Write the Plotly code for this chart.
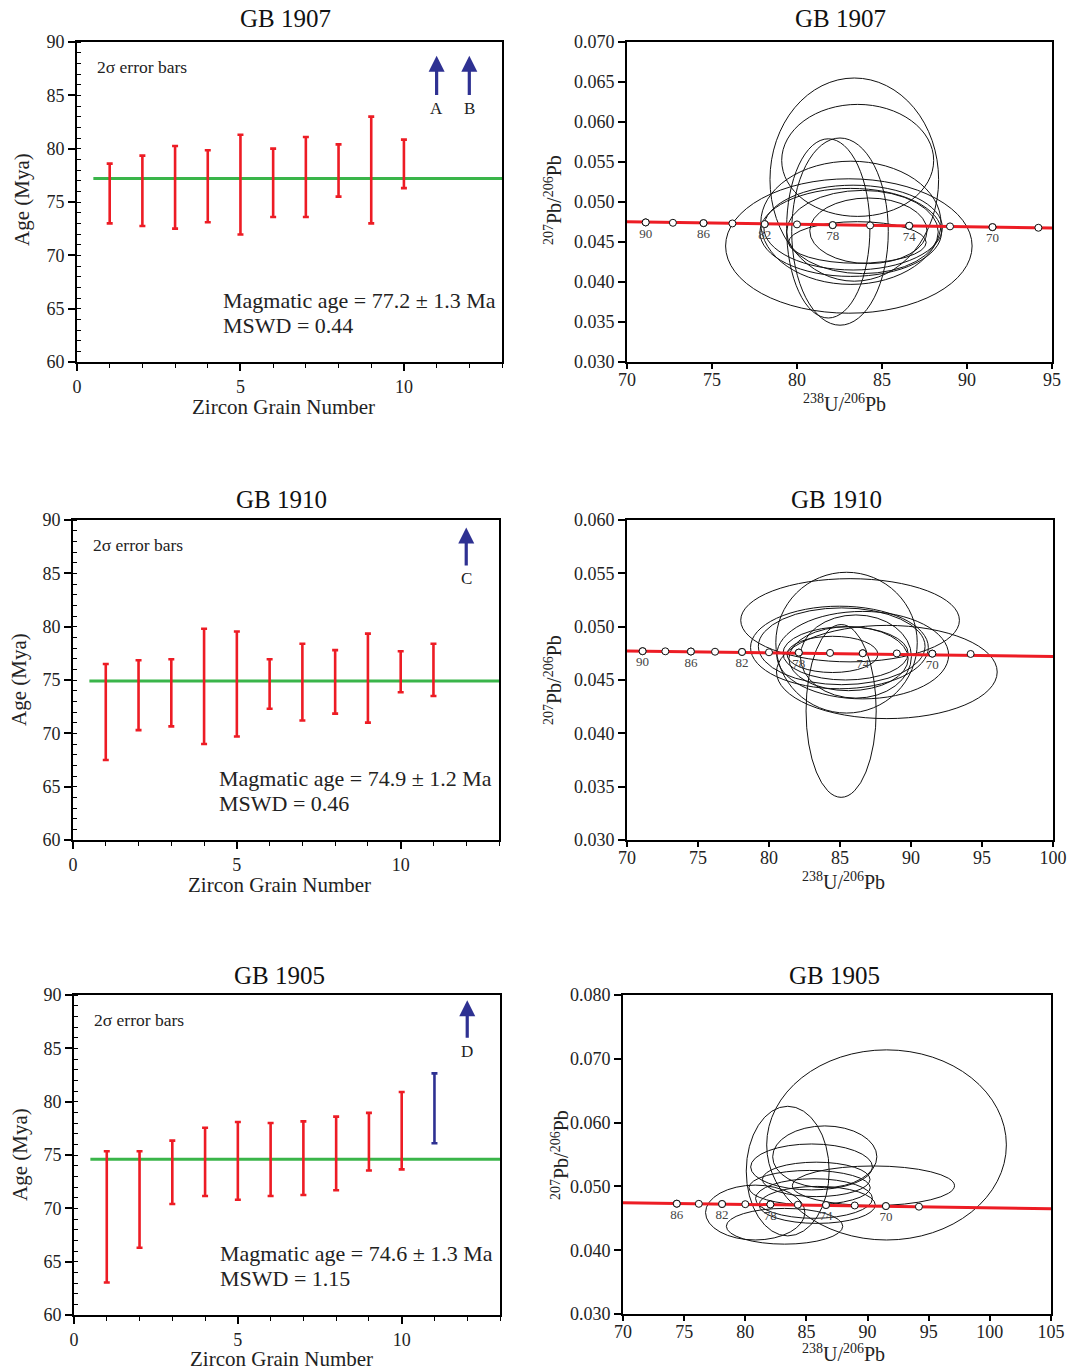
import plotly.graph_objects as go

OFF = 0                      # body margin is removed by the post script below
W, H = 1070, 1371
FONT = "Liberation Serif"
RED = "#ed1c24"
BLUE = "#2e3192"
GREEN = "#3ab54a"

# ---------------- weighted-mean age data (2-sigma ranges, Ma) ----------------
grains_1907 = [1, 2, 3, 4, 5, 6, 7, 8, 9, 10]
low_1907 = [73.0, 72.75, 72.5, 73.1, 71.95, 73.6, 73.6, 75.5, 73.0, 76.3]
high_1907 = [78.6, 79.35, 80.25, 79.85, 81.3, 80.0, 81.1, 80.4, 83.0, 80.85]
mean_1907 = 77.2
arrow_x_1907 = [11, 12]
arrow_lbl_1907 = ["A", "B"]
arrow_y_1907 = [84.9, 88.7, 83.8]      # tail, head, label
text_1907 = ["Magmatic age = 77.2 ± 1.3 Ma", "MSWD = 0.44"]

grains_1910 = [1, 2, 3, 4, 5, 6, 7, 8, 9, 10, 11]
low_1910 = [67.5, 70.3, 70.65, 69.0, 69.7, 72.3, 71.2, 71.85, 71.0, 73.85, 73.5]
high_1910 = [76.5, 76.85, 76.95, 79.8, 79.55, 76.95, 78.4, 77.8, 79.35, 77.7, 78.4]
mean_1910 = 74.9
arrow_x_1910 = [12]
arrow_lbl_1910 = ["C"]
arrow_y_1910 = [85.6, 89.3, 84.5]
text_1910 = ["Magmatic age = 74.9 ± 1.2 Ma", "MSWD = 0.46"]

grains_1905 = [1, 2, 3, 4, 5, 6, 7, 8, 9, 10]
low_1905 = [63.05, 66.3, 70.4, 71.15, 70.8, 71.15, 71.25, 71.7, 73.55, 73.65]
high_1905 = [75.35, 75.35, 76.35, 77.55, 78.1, 78.0, 78.15, 78.6, 78.95, 80.9]
excl_grain_1905 = [11]
excl_low_1905 = [76.1]
excl_high_1905 = [82.65]
mean_1905 = 74.6
arrow_x_1905 = [12]
arrow_lbl_1905 = ["D"]
arrow_y_1905 = [85.85, 89.5, 84.7]
text_1905 = ["Magmatic age = 74.6 ± 1.3 Ma", "MSWD = 1.15"]

# ---------------- Tera-Wasserburg concordia data ----------------
conc_age = [90, 88, 86, 84, 82, 80, 78, 76, 74, 72, 70, 68]
conc_x = [71.1, 72.7, 74.5, 76.2, 78.1, 80.0, 82.1, 84.3, 86.6, 89.0, 91.5, 94.2]
conc_y_1907 = [0.04745, 0.04740, 0.04736, 0.04732, 0.04724, 0.04720,
               0.04711, 0.04707, 0.04703, 0.04695, 0.04686, 0.04678]
conc_y_1910 = [0.04770, 0.04769, 0.04767, 0.04765, 0.04763, 0.04760,
               0.04757, 0.04754, 0.04751, 0.04749, 0.04747, 0.04744]
conc_age_1905 = [86, 84, 82, 80, 78, 76, 74, 72, 70, 68]
conc_x_1905 = [74.4, 76.2, 78.1, 80.0, 82.05, 84.3, 86.6, 88.95, 91.5, 94.2]
conc_y_1905 = [0.04729, 0.04727, 0.04724, 0.04721, 0.04717, 0.04713,
               0.04708, 0.04701, 0.04692, 0.04682]
labelled_ages = [90, 86, 82, 78, 74, 70]

line_x_1907 = [70, 95]
line_y_1907 = [0.04752, 0.04676]
line_x_1910 = [70, 100]
line_y_1910 = [0.04773, 0.04720]
line_x_1905 = [70, 105]
line_y_1905 = [0.04745, 0.04651]

# error ellipses: centre x, centre y, half-width, half-height
ell_cx_1907 = [83.37, 83.57, 81.84, 82.53, 83.05, 83.17, 83.16, 83.30, 83.85, 84.20, 83.55]
ell_cy_1907 = [0.0528, 0.0552, 0.0467, 0.0463, 0.0445, 0.0474, 0.0462, 0.0468, 0.04625, 0.0464, 0.04494]
ell_rx_1907 = [4.96, 4.47, 2.45, 2.84, 7.25, 5.30, 5.34, 5.25, 4.46, 3.45, 4.05]
ell_ry_1907 = [0.0127, 0.0070, 0.0112, 0.0117, 0.0084, 0.0077, 0.0055, 0.0053, 0.0052, 0.0041, 0.0026]

ell_cx_1910 = [85.71, 85.46, 85.08, 88.30, 84.96, 85.12, 86.60, 85.39, 86.12, 84.47, 85.60]
ell_cy_1910 = [0.0506, 0.0485, 0.0421, 0.04575, 0.04805, 0.04816, 0.04733, 0.0475, 0.0472, 0.0474, 0.0470]
ell_rx_1910 = [7.70, 4.98, 2.47, 7.77, 6.26, 5.87, 6.05, 4.41, 3.91, 3.20, 4.20]
ell_ry_1910 = [0.0039, 0.0066, 0.0081, 0.00437, 0.00387, 0.0036, 0.0041, 0.0025, 0.0039, 0.0017, 0.0030]

ell_cx_1905 = [91.55, 83.47, 86.50, 85.42, 90.48, 85.26, 85.80, 85.88, 85.62, 80.81, 83.21]
ell_cy_1905 = [0.0565, 0.0524, 0.05464, 0.05305, 0.0501, 0.0498, 0.0511, 0.0471, 0.0481, 0.0459, 0.04375]
ell_rx_1905 = [9.80, 3.39, 4.26, 4.98, 6.63, 4.96, 4.40, 4.75, 4.78, 4.06, 4.76]
ell_ry_1905 = [0.0149, 0.01016, 0.00484, 0.0036, 0.0031, 0.0027, 0.0027, 0.0029, 0.0031, 0.0043, 0.0028]

# ---------------- layout geometry (page pixels) ----------------
# (left, right, top, bottom) of each plotting area
boxes = {
    1: (77, 502, 42, 362), 2: (627, 1052, 42, 362),
    3: (73, 499, 520, 840), 4: (627, 1053, 520, 840),
    5: (74, 500, 995, 1315), 6: (623, 1051, 995, 1314),
}


def px(x):
    return (x - OFF) / W


def py(y):
    return 1 - (y - OFF) / H


fig = go.Figure()
layout = dict(
    width=W, height=H, margin=dict(l=0, r=0, t=0, b=0, autoexpand=False),
    paper_bgcolor="white", plot_bgcolor="white", showlegend=False,
    font=dict(family=FONT, color="#222"),
)
annotations = []
shapes = []


def axname(i, kind):
    return f"{kind}axis" if i == 1 else f"{kind}axis{i}"


def ref(i, kind):
    return kind if i == 1 else f"{kind}{i}"


def set_axes(i, xr, yr, xd, yd, left_panel, yfmt=None):
    l, r, t, b = boxes[i]
    common = dict(showline=True, mirror=True, linecolor="black", linewidth=1.8,
                  showgrid=False, zeroline=False, ticks="outside", automargin=False,
                  tickcolor="black", tickwidth=1.5, ticklen=7,
                  tickfont=dict(family=FONT, size=18, color="#222"))
    xa = dict(common, domain=[px(l), px(r)], range=xr, tick0=xr[0], dtick=xd,
              anchor=ref(i, "y"))
    ya = dict(common, domain=[py(b), py(t)], range=yr, tick0=yr[0], dtick=yd,
              anchor=ref(i, "x"))
    if left_panel:
        xa["minor"] = dict(dtick=1, ticks="outside", ticklen=4, tickcolor="black", tickwidth=1)
        ya["minor"] = dict(dtick=1, ticks="inside", ticklen=4, tickcolor="black", tickwidth=1)
    else:
        xa["ticklen"] = 5
        xa["ticklabelstandoff"] = -5
    if yfmt:
        ya["tickformat"] = yfmt
    layout[axname(i, "x")] = xa
    layout[axname(i, "y")] = ya


def paper_text(text, xc, yc, size, angle=0, color="#222"):
    annotations.append(dict(text=text, x=px(xc), y=py(yc), xref="paper", yref="paper",
                            xanchor="center", yanchor="middle",
                            showarrow=False, textangle=angle,
                            font=dict(family=FONT, size=size, color=color)))


def age_panel(i, grains, low, high, mean, arrows, arrow_lbls, arrow_y, texts,
              xg_ex=None, lo_ex=None, hi_ex=None):
    xr, yr = ref(i, "x"), ref(i, "y")
    set_axes(i, [0, 13], [60, 90], 5, 5, True)
    mid = [(a + b) / 2 for a, b in zip(low, high)]
    fig.add_trace(go.Scatter(
        x=[0.5, 13], y=[mean, mean], mode="lines",
        line=dict(color=GREEN, width=3), xaxis=xr, yaxis=yr, hoverinfo="skip"))
    fig.add_trace(go.Scatter(
        x=grains, y=mid, mode="markers",
        marker=dict(size=1, color="rgba(0,0,0,0)"),
        error_y=dict(type="data", symmetric=False,
                     array=[h - m for h, m in zip(high, mid)],
                     arrayminus=[m - lo for m, lo in zip(mid, low)],
                     color=RED, thickness=2.6, width=3),
        xaxis=xr, yaxis=yr))
    if xg_ex:
        mid_ex = [(a + b) / 2 for a, b in zip(lo_ex, hi_ex)]
        fig.add_trace(go.Scatter(
            x=xg_ex, y=mid_ex, mode="markers",
            marker=dict(size=1, color="rgba(0,0,0,0)"),
            error_y=dict(type="data", symmetric=False,
                         array=[h - m for h, m in zip(hi_ex, mid_ex)],
                         arrayminus=[m - lo for m, lo in zip(mid_ex, lo_ex)],
                         color=BLUE, thickness=2.6, width=3),
            xaxis=xr, yaxis=yr))
    tail, head, lab = arrow_y
    for ax_, lbl in zip(arrows, arrow_lbls):
        annotations.append(dict(x=ax_, y=head, ax=ax_, ay=tail, xref=xr, yref=yr,
                                axref=xr, ayref=yr, showarrow=True, arrowhead=2,
                                arrowsize=1.0, arrowwidth=3.2, arrowcolor=BLUE, text=""))
        annotations.append(dict(x=ax_, y=lab, xref=xr, yref=yr, text=lbl, showarrow=False,
                                xanchor="center", yanchor="middle",
                                font=dict(family=FONT, size=17, color="#222")))
    annotations.append(dict(x=0.55, y=87.7, xref=xr, yref=yr, text="2σ error bars",
                            showarrow=False, xanchor="left", yanchor="middle",
                            font=dict(family=FONT, size=17.5, color="#222")))
    annotations.append(dict(x=4.4, y=65.8, xref=xr, yref=yr, text=texts[0],
                            showarrow=False, xanchor="left", yanchor="middle",
                            font=dict(family=FONT, size=22, color="#222")))
    annotations.append(dict(x=4.4, y=63.4, xref=xr, yref=yr, text=texts[1],
                            showarrow=False, xanchor="left", yanchor="middle",
                            font=dict(family=FONT, size=22, color="#222")))


def conc_panel(i, xr_, yr_, xd, yd, cx, cy, ages, lx, ly, ecx, ecy, erx, ery):
    xr, yr = ref(i, "x"), ref(i, "y")
    set_axes(i, xr_, yr_, xd, yd, False, yfmt=".3f")
    for a, b, c, d in zip(ecx, ecy, erx, ery):
        shapes.append(dict(type="circle", xref=xr, yref=yr, x0=a - c, x1=a + c,
                           y0=b - d, y1=b + d, line=dict(color="#111", width=1),
                           layer="below"))
    fig.add_trace(go.Scatter(x=lx, y=ly, mode="lines", line=dict(color=RED, width=3),
                             xaxis=xr, yaxis=yr, hoverinfo="skip"))
    mk = dict(symbol="circle", size=7, color="white", line=dict(color="#111", width=1))
    fig.add_trace(go.Scatter(x=cx, y=cy, mode="markers", marker=mk, xaxis=xr, yaxis=yr))
    sel = [k for k, a in enumerate(ages) if a in labelled_ages]
    fig.add_trace(go.Scatter(
        x=[cx[k] for k in sel], y=[cy[k] for k in sel], mode="markers+text",
        text=[str(ages[k]) for k in sel], textposition="bottom center",
        textfont=dict(family=FONT, size=13, color="#444"),
        marker=mk, xaxis=xr, yaxis=yr))


# ---- row 1: GB 1907
age_panel(1, grains_1907, low_1907, high_1907, mean_1907, arrow_x_1907, arrow_lbl_1907,
          arrow_y_1907, text_1907)
conc_panel(2, [70, 95], [0.030, 0.070], 5, 0.005, conc_x, conc_y_1907, conc_age,
           line_x_1907, line_y_1907, ell_cx_1907, ell_cy_1907, ell_rx_1907, ell_ry_1907)
# ---- row 2: GB 1910
age_panel(3, grains_1910, low_1910, high_1910, mean_1910, arrow_x_1910, arrow_lbl_1910,
          arrow_y_1910, text_1910)
conc_panel(4, [70, 100], [0.030, 0.060], 5, 0.005, conc_x, conc_y_1910, conc_age,
           line_x_1910, line_y_1910, ell_cx_1910, ell_cy_1910, ell_rx_1910, ell_ry_1910)
# ---- row 3: GB 1905
age_panel(5, grains_1905, low_1905, high_1905, mean_1905, arrow_x_1905, arrow_lbl_1905,
          arrow_y_1905, text_1905, excl_grain_1905, excl_low_1905, excl_high_1905)
conc_panel(6, [70, 105], [0.030, 0.080], 5, 0.010, conc_x_1905, conc_y_1905, conc_age_1905,
           line_x_1905, line_y_1905, ell_cx_1905, ell_cy_1905, ell_rx_1905, ell_ry_1905)

# panel titles
for t_, xc, yc in [("GB 1907", 285, 19), ("GB 1907", 840, 19),
                   ("GB 1910", 281, 500), ("GB 1910", 836, 499),
                   ("GB 1905", 279, 975), ("GB 1905", 834, 975)]:
    paper_text(t_, xc, yc, 25, color="#111")

# axis titles
ytl = "<sup>207</sup>Pb/<sup>206</sup>Pb"
xtl = "<sup>238</sup>U/<sup>206</sup>Pb"
paper_text("Zircon Grain Number", 283, 407, 21)
paper_text("Age (Mya)", 22, 200, 21, -90)
paper_text(ytl, 553, 200, 20, -90)
paper_text(xtl, 844, 403, 20)
paper_text("Zircon Grain Number", 279, 885, 21)
paper_text("Age (Mya)", 19, 680, 21, -90)
paper_text(ytl, 553, 680, 20, -90)
paper_text(xtl, 843, 881, 20)
paper_text("Zircon Grain Number", 281, 1359, 21)
paper_text("Age (Mya)", 20, 1155, 21, -90)
paper_text(ytl, 560, 1155, 20, -90)
paper_text(xtl, 843, 1353, 20)

layout["annotations"] = annotations
layout["shapes"] = shapes
fig.update_layout(**layout)
fig.write_html("out.html", config={"displayModeBar": False},
               post_script="document.body.style.margin='0';"
                           "document.documentElement.style.overflow='hidden';")
